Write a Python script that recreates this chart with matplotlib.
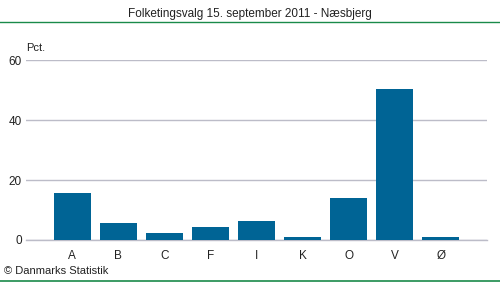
import matplotlib
matplotlib.use("Agg")
import matplotlib.pyplot as plt
from matplotlib.lines import Line2D

# Parties and vote share (pct.)
parties = ["A", "B", "C", "F", "I", "K", "O", "V", "Ø"]
shares = [15.7, 5.5, 2.3, 4.4, 6.3, 1.0, 14.0, 50.3, 1.0]
yticks = [0, 20, 40, 60]

title = "Folketingsvalg 15. september 2011 - Næsbjerg"
source = "© Danmarks Statistik"

plt.rcParams['font.family'] = ['Liberation Sans', 'DejaVu Sans']

fig = plt.figure(figsize=(5, 2.82), dpi=100)
ax = fig.add_axes([0.052, 0.149, 0.922, 0.638])

x = range(len(parties))
ax.bar(x, shares, width=0.8, color="#006495", zorder=3)

ax.set_xlim(-1, 9)
ax.set_ylim(0, 60)
ax.set_yticks(yticks)
ax.set_yticklabels([str(t) for t in yticks], fontsize=8.5, color="#222222")
ax.set_xticks(list(x))
ax.set_xticklabels(parties, fontsize=8.5, color="#222222")
ax.tick_params(axis="both", length=0, pad=3)
ax.tick_params(axis="x", pad=7)
ax.yaxis.grid(True, color="#bcbcc8", linewidth=1, zorder=0)
for side in ["top", "right", "left"]:
    ax.spines[side].set_visible(False)
ax.spines["bottom"].set_color("#bcbcc8")
ax.spines["bottom"].set_linewidth(1)

ax.text(0.0, 1.04, "Pct.", transform=ax.transAxes, fontsize=8, color="#222222",
        ha="left", va="bottom")

fig.text(0.5, 0.952, title, ha="center", va="center", fontsize=8.5, color="#222222")
fig.add_artist(Line2D([0, 1], [0.921, 0.921], color="#1a8a4a", linewidth=1,
                      transform=fig.transFigure))
fig.add_artist(Line2D([0, 1], [0.003, 0.003], color="#1a8a4a", linewidth=1.2,
                      transform=fig.transFigure))
fig.text(0.008, 0.038, source, ha="left", va="center", fontsize=8, color="#222222")

fig.savefig("out.png", dpi=100)
